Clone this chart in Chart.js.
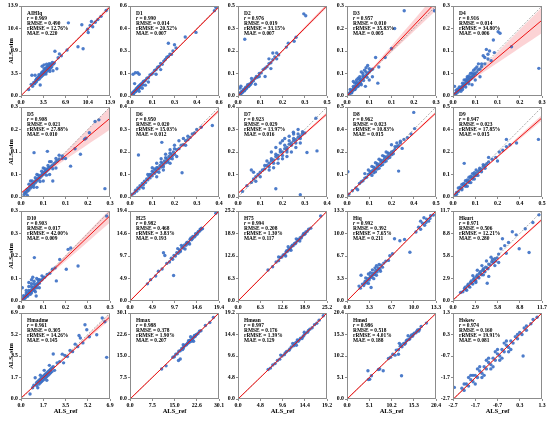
<!DOCTYPE html>
<html>
<head>
<meta charset="utf-8">
<script src="https://cdn.jsdelivr.net/npm/chart.js@4/dist/chart.umd.min.js"></script>
<style>
  body { margin: 0; background: #fff; width: 550px; height: 421px; position: relative; overflow: hidden; }
  canvas { position: absolute; }
</style>
</head>
<body>
<script>
// panel names and statistics
const names = ['AIHIq', 'D1', 'D2', 'D3', 'D4', 'D5', 'D6', 'D7', 'D8', 'D9',
  'D10', 'H25', 'H75', 'Hiq', 'Hkurt', 'Hmadme', 'Hmax', 'Hmean', 'Hmed', 'Hskew'];
const rValues = ['0.969', '0.990', '0.976', '0.957', '0.916', '0.908', '0.950', '0.923', '0.962', '0.947',
  '0.903', '0.982', '0.994', '0.992', '0.971', '0.961', '0.988', '0.997', '0.986', '0.974'];
const rmseValues = ['0.490', '0.014', '0.019', '0.010', '0.014', '0.021', '0.020', '0.029', '0.023', '0.023',
  '0.017', '0.468', '0.208', '0.392', '0.506', '0.305', '0.378', '0.176', '0.518', '0.160'];
const rrmseValues = ['12.76', '20.52', '33.15', '35.83', '34.80', '27.88', '15.03', '13.97', '10.83', '17.85',
  '42.00', '3.83', '1.30', '7.65', '12.21', '14.26', '1.90', '1.39', '4.01', '19.91'];
const maeValues = ['0.220', '0.007', '0.007', '0.005', '0.006', '0.010', '0.012', '0.016', '0.015', '0.015',
  '0.009', '0.193', '0.117', '0.211', '0.280', '0.145', '0.207', '0.129', '0.188', '0.081'];

// axis ranges (same on x and y) and the printed tick labels
const axisMin = [0, 0, 0, 0, 0, 0, 0, 0, 0, 0, 0, 0, 0, 0, 0, 0, 0, 0, 0, -2.7];
const axisMax = [13.9, 0.58, 0.46, 0.28, 0.28, 0.28, 0.40, 0.40, 0.50, 0.50,
  0.34, 19.4, 25.2, 13.3, 11.7, 6.9, 30.1, 19.2, 20.4, 1.3];
const tickLabels = [
  ['0.0', '3.5', '6.9', '10.4', '13.9'],
  ['0.0', '0.1', '0.3', '0.4', '0.6'],
  ['0.0', '0.1', '0.2', '0.3', '0.5'],
  ['0.0', '0.1', '0.1', '0.2', '0.3'],
  ['0.0', '0.1', '0.1', '0.2', '0.3'],
  ['0.0', '0.1', '0.1', '0.2', '0.3'],
  ['0.0', '0.1', '0.2', '0.3', '0.4'],
  ['0.0', '0.1', '0.2', '0.3', '0.4'],
  ['0.0', '0.1', '0.2', '0.4', '0.5'],
  ['0.0', '0.1', '0.2', '0.4', '0.5'],
  ['0.0', '0.1', '0.2', '0.3', '0.3'],
  ['0.0', '4.9', '9.7', '14.6', '19.4'],
  ['0.0', '6.3', '12.6', '18.9', '25.2'],
  ['0.0', '3.3', '6.7', '10.0', '13.3'],
  ['0.0', '2.9', '5.8', '8.8', '11.7'],
  ['0.0', '1.7', '3.5', '5.2', '6.9'],
  ['0.0', '7.5', '15.0', '22.6', '30.1'],
  ['0.0', '4.8', '9.6', '14.4', '19.2'],
  ['0.0', '5.1', '10.2', '15.3', '20.4'],
  ['-2.7', '-1.7', '-0.7', '0.3', '1.3']
];

// fitted line: y at axis min and at axis max
const fitEnds = [[0.05, 13.75], [0.001, 0.575], [0.001, 0.462], [0.0, 0.292], [0.003, 0.236],
  [0.012, 0.245], [0.002, 0.385], [0.016, 0.37], [0.008, 0.468], [0.008, 0.44],
  [0.001, 0.322], [0.0, 19.4], [0.0, 25.1], [0.0, 13.3], [0.13, 10.6],
  [0.08, 6.6], [0.0, 30.1], [0.0, 19.2], [0.0, 20.3], [-2.72, 1.3]];
// confidence band half widths at axis min, near data centre, at axis max
const bandHalf = [[0.05, 0.02, 0.35], [0.002, 0.001, 0.008], [0.003, 0.001, 0.01], [0.003, 0.001, 0.025], [0.003, 0.001, 0.04],
  [0.003, 0.001, 0.035], [0.003, 0.001, 0.008], [0.004, 0.002, 0.008], [0.003, 0.001, 0.008], [0.002, 0.001, 0.015],
  [0.002, 0.001, 0.025], [0.15, 0.03, 0.1], [0.2, 0.03, 0.1], [0.05, 0.02, 0.1], [0.05, 0.02, 0.2],
  [0.03, 0.01, 0.25], [0.2, 0.05, 0.2], [0.1, 0.02, 0.05], [0.15, 0.03, 0.1], [0.04, 0.01, 0.03]];
const bandMidX = [3.5, 0.1, 0.06, 0.04, 0.04, 0.06, 0.14, 0.18, 0.18, 0.1,
  0.04, 12, 15, 4, 3.5, 2, 19.5, 12, 13, -1];

// scatter points [ALS_ref, ALS_sim]
const ptsAIHIq = [[1.2,1.0],[1.6,1.8],[1.8,1.5],[2.0,2.1],[2.1,1.9],[2.3,2.4],[2.4,2.2],[2.5,2.7],[2.6,2.5],[2.7,2.9],[2.8,2.6],[2.9,3.1],[3.0,2.8],[3.1,3.3],[3.2,3.0],[3.3,3.5],[3.4,3.2],[3.5,3.7],[3.6,3.4],[3.7,3.9],[3.8,3.6],[3.9,4.1],[4.0,3.8],[4.1,4.3],[4.2,4.0],[4.3,4.5],[4.4,4.1],[4.5,4.6],[4.6,4.3],[4.7,4.8],[4.8,4.5],[5.0,4.9],[5.2,5.1],[3.3,4.6],[3.6,4.8],[4.0,4.9],[4.4,5.0],[2.2,3.2],[1.7,3.2],[3.0,1.7],[5.3,6.9],[6.0,6.5],[5.8,5.9],[6.3,6.2],[5.0,3.9],[5.6,4.2],[7.2,7.1],[7.4,11.3],[9.5,11.0],[8.9,7.6],[9.7,7.3],[10.4,10.3],[10.8,10.9],[11.2,10.7],[11.6,11.4],[12.0,11.8],[12.5,12.3],[11.0,11.5],[10.5,9.8],[13.3,13.2],
  [2.2,2.0],[2.6,2.8],[3.0,3.2],[3.4,3.8],[3.8,4.2],[4.2,4.6],[4.6,4.9],[3.2,3.6],[3.6,4.2],[4.0,4.4],[2.8,3.3],[4.9,5.2],[3.9,3.4],[4.5,3.8],[2.4,2.6]];
const ptsD1 = [[0.005,0.004],[0.01,0.012],[0.015,0.01],[0.02,0.022],[0.025,0.018],[0.03,0.033],[0.035,0.028],[0.04,0.045],[0.045,0.04],[0.05,0.055],[0.055,0.048],[0.06,0.065],[0.065,0.06],[0.07,0.075],[0.08,0.078],[0.09,0.095],[0.1,0.1],[0.11,0.115],[0.12,0.118],[0.13,0.135],[0.14,0.14],[0.15,0.148],[0.16,0.165],[0.17,0.17],[0.18,0.185],[0.19,0.19],[0.2,0.21],[0.21,0.205],[0.22,0.225],[0.23,0.235],[0.24,0.25],[0.25,0.255],[0.26,0.27],[0.27,0.268],[0.28,0.29],[0.3,0.31],[0.29,0.33],[0.25,0.34],[0.02,0.14],[0.035,0.15],[0.05,0.15],[0.06,0.14],[0.03,0.08],[0.06,0.03],[0.08,0.05],[0.1,0.07],[0.36,0.38],[0.43,0.41],[0.55,0.55],[0.56,0.57],[0.17,0.14],[0.2,0.17],[0.12,0.09],
  [0.015,0.02],[0.025,0.03],[0.035,0.038],[0.045,0.05],[0.055,0.062],[0.065,0.07],[0.075,0.08],[0.085,0.09],[0.02,0.012],[0.04,0.032],[0.06,0.05],[0.08,0.07]];
const ptsD2 = [[0.003,0.003],[0.008,0.01],[0.012,0.008],[0.018,0.02],[0.022,0.018],[0.028,0.03],[0.032,0.026],[0.038,0.04],[0.043,0.038],[0.05,0.052],[0.055,0.048],[0.06,0.062],[0.065,0.06],[0.072,0.075],[0.08,0.078],[0.088,0.09],[0.095,0.1],[0.1,0.096],[0.11,0.115],[0.12,0.118],[0.13,0.135],[0.14,0.142],[0.15,0.15],[0.16,0.165],[0.17,0.17],[0.18,0.185],[0.19,0.2],[0.2,0.19],[0.21,0.21],[0.16,0.19],[0.18,0.22],[0.2,0.22],[0.14,0.1],[0.17,0.14],[0.01,0.04],[0.015,0.05],[0.035,0.29],[0.09,0.06],[0.25,0.25],[0.26,0.27],[0.29,0.28],[0.3,0.3],[0.34,0.42],[0.35,0.41],[0.07,0.09],[0.11,0.1],
  [0.01,0.015],[0.02,0.025],[0.03,0.035],[0.04,0.045],[0.05,0.058],[0.015,0.012],[0.025,0.022],[0.035,0.03],[0.045,0.042],[0.06,0.055],[0.07,0.068]];
const ptsD3 = [[0.002,0.002],[0.005,0.006],[0.008,0.007],[0.01,0.012],[0.013,0.01],[0.015,0.018],[0.018,0.016],[0.02,0.024],[0.023,0.02],[0.025,0.03],[0.028,0.025],[0.03,0.035],[0.033,0.03],[0.035,0.04],[0.038,0.036],[0.04,0.045],[0.043,0.04],[0.045,0.05],[0.05,0.055],[0.052,0.048],[0.055,0.06],[0.06,0.065],[0.063,0.058],[0.065,0.07],[0.07,0.075],[0.075,0.08],[0.08,0.083],[0.03,0.05],[0.04,0.06],[0.05,0.07],[0.055,0.08],[0.06,0.088],[0.065,0.095],[0.045,0.075],[0.02,0.045],[0.058,0.03],[0.07,0.05],[0.08,0.06],[0.09,0.12],[0.1,0.09],[0.12,0.12],[0.14,0.148],[0.15,0.21],[0.18,0.265],[0.275,0.265],[0.097,0.04],
  [0.01,0.02],[0.02,0.03],[0.03,0.042],[0.04,0.052],[0.05,0.062],[0.015,0.01],[0.025,0.02],[0.035,0.03],[0.045,0.035],[0.06,0.075],[0.07,0.085],[0.025,0.04],[0.035,0.055]];
const ptsD4 = [[0.002,0.003],[0.005,0.004],[0.008,0.009],[0.01,0.008],[0.012,0.014],[0.015,0.012],[0.018,0.02],[0.02,0.017],[0.023,0.025],[0.025,0.022],[0.028,0.03],[0.03,0.027],[0.033,0.036],[0.035,0.032],[0.038,0.04],[0.04,0.037],[0.043,0.045],[0.045,0.042],[0.048,0.05],[0.05,0.047],[0.053,0.056],[0.055,0.052],[0.058,0.06],[0.06,0.057],[0.063,0.066],[0.065,0.062],[0.068,0.07],[0.07,0.068],[0.075,0.075],[0.08,0.082],[0.085,0.084],[0.09,0.092],[0.035,0.05],[0.045,0.06],[0.055,0.07],[0.065,0.08],[0.075,0.09],[0.08,0.1],[0.06,0.035],[0.07,0.05],[0.085,0.06],[0.1,0.1],[0.1,0.12],[0.11,0.13],[0.115,0.14],[0.12,0.11],[0.13,0.135],[0.127,0.174],[0.142,0.2],[0.148,0.195],[0.184,0.153],[0.27,0.086],[0.005,0.03],[0.095,0.125],[0.105,0.145],
  [0.01,0.018],[0.02,0.028],[0.03,0.04],[0.04,0.05],[0.05,0.062],[0.06,0.072],[0.07,0.085],[0.025,0.015],[0.04,0.028],[0.05,0.038],[0.015,0.022],[0.03,0.02],[0.045,0.055],[0.09,0.1],[0.11,0.115]];
const ptsD5 = [[0.01,0.008],[0.012,0.015],[0.015,0.012],[0.018,0.022],[0.02,0.018],[0.022,0.026],[0.025,0.022],[0.028,0.032],[0.03,0.028],[0.033,0.038],[0.035,0.033],[0.038,0.043],[0.04,0.038],[0.043,0.048],[0.045,0.044],[0.048,0.054],[0.05,0.05],[0.053,0.058],[0.055,0.055],[0.058,0.063],[0.06,0.06],[0.063,0.068],[0.065,0.065],[0.068,0.073],[0.07,0.07],[0.073,0.078],[0.075,0.075],[0.078,0.082],[0.08,0.08],[0.083,0.087],[0.085,0.085],[0.088,0.092],[0.09,0.09],[0.095,0.096],[0.1,0.1],[0.105,0.104],[0.11,0.11],[0.115,0.113],[0.12,0.118],[0.03,0.05],[0.05,0.07],[0.07,0.09],[0.09,0.11],[0.05,0.03],[0.07,0.05],[0.09,0.07],[0.11,0.09],[0.041,0.138],[0.083,0.142],[0.13,0.128],[0.14,0.12],[0.156,0.096],[0.187,0.133],[0.17,0.15],[0.2,0.18],[0.204,0.183],[0.215,0.2],[0.233,0.235],[0.245,0.24],[0.264,0.026],[0.1,0.05],[0.02,0.005],
  [0.025,0.04],[0.035,0.05],[0.045,0.06],[0.055,0.068],[0.065,0.08],[0.075,0.088],[0.085,0.098],[0.095,0.11],[0.04,0.03],[0.06,0.048],[0.08,0.068],[0.1,0.088],[0.11,0.12],[0.12,0.13],[0.13,0.12]];
const ptsD6 = [[0.01,0.012],[0.02,0.018],[0.025,0.03],[0.03,0.026],[0.035,0.04],[0.04,0.036],[0.045,0.05],[0.05,0.045],[0.055,0.06],[0.06,0.055],[0.065,0.07],[0.07,0.064],[0.075,0.08],[0.08,0.076],[0.085,0.09],[0.09,0.085],[0.095,0.1],[0.1,0.094],[0.105,0.11],[0.11,0.105],[0.115,0.12],[0.12,0.113],[0.125,0.13],[0.13,0.124],[0.135,0.14],[0.14,0.133],[0.145,0.15],[0.15,0.143],[0.155,0.16],[0.16,0.152],[0.165,0.17],[0.17,0.163],[0.175,0.18],[0.18,0.172],[0.185,0.19],[0.19,0.182],[0.195,0.2],[0.2,0.19],[0.21,0.21],[0.22,0.215],[0.23,0.23],[0.24,0.232],[0.25,0.25],[0.26,0.255],[0.27,0.265],[0.28,0.28],[0.29,0.285],[0.1,0.13],[0.12,0.15],[0.14,0.17],[0.16,0.19],[0.18,0.21],[0.2,0.23],[0.22,0.25],[0.12,0.09],[0.15,0.12],[0.18,0.15],[0.21,0.18],[0.038,0.187],[0.143,0.243],[0.234,0.108],[0.37,0.318],[0.3,0.3],[0.32,0.31],[0.06,0.04],[0.08,0.1],
  [0.1,0.115],[0.12,0.13],[0.14,0.155],[0.16,0.175],[0.18,0.195],[0.2,0.215],[0.13,0.11],[0.15,0.135],[0.17,0.155],[0.19,0.17],[0.24,0.26],[0.26,0.27],[0.25,0.23],[0.11,0.125],[0.09,0.1]];
const ptsD7 = [[0.02,0.025],[0.04,0.05],[0.06,0.065],[0.07,0.08],[0.08,0.09],[0.09,0.1],[0.1,0.11],[0.11,0.12],[0.12,0.125],[0.13,0.14],[0.14,0.15],[0.15,0.16],[0.16,0.165],[0.17,0.18],[0.18,0.185],[0.19,0.2],[0.2,0.2],[0.21,0.215],[0.22,0.22],[0.23,0.235],[0.24,0.24],[0.25,0.25],[0.26,0.255],[0.27,0.265],[0.28,0.27],[0.29,0.28],[0.3,0.285],[0.15,0.2],[0.17,0.22],[0.19,0.24],[0.21,0.26],[0.23,0.27],[0.25,0.28],[0.16,0.13],[0.18,0.15],[0.2,0.17],[0.22,0.18],[0.24,0.2],[0.26,0.22],[0.28,0.24],[0.12,0.14],[0.14,0.12],[0.1,0.09],[0.06,0.12],[0.07,0.11],[0.17,0.037],[0.28,0.01],[0.31,0.198],[0.355,0.205],[0.249,0.288],[0.27,0.3],[0.2,0.25],[0.22,0.21],[0.08,0.07],[0.35,0.35],
  [0.13,0.16],[0.15,0.17],[0.17,0.19],[0.19,0.21],[0.21,0.23],[0.23,0.25],[0.25,0.26],[0.27,0.28],[0.14,0.135],[0.16,0.15],[0.18,0.17],[0.2,0.185],[0.22,0.2],[0.24,0.23],[0.26,0.24],[0.28,0.26],[0.29,0.29]];
const ptsD8 = [[0.01,0.015],[0.03,0.035],[0.05,0.05],[0.07,0.075],[0.08,0.085],[0.09,0.09],[0.1,0.105],[0.11,0.11],[0.12,0.125],[0.13,0.13],[0.14,0.145],[0.15,0.15],[0.16,0.16],[0.17,0.175],[0.18,0.18],[0.19,0.195],[0.2,0.2],[0.21,0.21],[0.22,0.22],[0.23,0.23],[0.24,0.24],[0.25,0.25],[0.26,0.255],[0.27,0.265],[0.28,0.28],[0.29,0.285],[0.3,0.3],[0.32,0.32],[0.34,0.33],[0.36,0.35],[0.12,0.15],[0.14,0.17],[0.16,0.19],[0.18,0.21],[0.2,0.23],[0.22,0.25],[0.14,0.12],[0.16,0.14],[0.18,0.16],[0.2,0.18],[0.22,0.2],[0.24,0.22],[0.26,0.24],[0.005,0.14],[0.29,0.144],[0.375,0.47],[0.38,0.38],[0.25,0.29],[0.31,0.27],[0.06,0.04],[0.1,0.13],
  [0.13,0.14],[0.15,0.165],[0.17,0.185],[0.19,0.205],[0.21,0.225],[0.23,0.245],[0.15,0.135],[0.17,0.155],[0.19,0.175],[0.21,0.195],[0.23,0.215],[0.25,0.235],[0.27,0.28],[0.28,0.3],[0.3,0.31]];
const ptsD9 = [[0.01,0.01],[0.02,0.025],[0.03,0.03],[0.04,0.045],[0.05,0.05],[0.06,0.065],[0.07,0.07],[0.08,0.085],[0.09,0.09],[0.1,0.105],[0.11,0.11],[0.12,0.12],[0.13,0.13],[0.14,0.14],[0.15,0.15],[0.16,0.155],[0.17,0.17],[0.18,0.175],[0.19,0.185],[0.2,0.195],[0.05,0.07],[0.07,0.09],[0.09,0.11],[0.11,0.13],[0.13,0.15],[0.08,0.06],[0.1,0.08],[0.12,0.1],[0.14,0.12],[0.063,0.187],[0.22,0.21],[0.24,0.22],[0.26,0.25],[0.28,0.26],[0.3,0.28],[0.32,0.29],[0.357,0.3],[0.3,0.32],[0.25,0.2],[0.48,0.32],[0.2,0.22],[0.03,0.05],
  [0.04,0.055],[0.06,0.075],[0.08,0.095],[0.1,0.115],[0.12,0.135],[0.05,0.04],[0.07,0.06],[0.09,0.08],[0.11,0.1],[0.13,0.12],[0.15,0.16],[0.17,0.18],[0.16,0.14],[0.18,0.16],[0.02,0.015]];
const ptsD10 = [[0.003,0.003],[0.006,0.008],[0.01,0.009],[0.013,0.015],[0.016,0.014],[0.02,0.022],[0.023,0.02],[0.026,0.03],[0.03,0.027],[0.033,0.036],[0.036,0.033],[0.04,0.043],[0.043,0.04],[0.046,0.05],[0.05,0.046],[0.053,0.057],[0.056,0.053],[0.06,0.064],[0.063,0.06],[0.066,0.07],[0.07,0.067],[0.075,0.078],[0.08,0.08],[0.085,0.088],[0.09,0.09],[0.02,0.04],[0.03,0.055],[0.04,0.065],[0.05,0.075],[0.06,0.085],[0.045,0.09],[0.035,0.025],[0.055,0.035],[0.07,0.05],[0.1,0.1],[0.11,0.105],[0.12,0.12],[0.13,0.125],[0.135,0.076],[0.148,0.157],[0.173,0.12],[0.18,0.195],[0.19,0.2],[0.218,0.132],[0.051,0.164],[0.058,0.019],[0.327,0.321],[0.005,0.05],
  [0.01,0.02],[0.02,0.03],[0.03,0.04],[0.04,0.055],[0.05,0.065],[0.015,0.01],[0.025,0.018],[0.04,0.03],[0.05,0.04],[0.06,0.05],[0.07,0.08],[0.08,0.095],[0.065,0.08],[0.03,0.07],[0.04,0.08]];
const ptsH25 = [[3.8,3.7],[4.5,4.6],[5.6,5.4],[6.2,6.4],[7.0,6.9],[7.3,10.4],[7.6,9.8],[8.0,8.1],[8.6,8.4],[9.0,9.2],[9.3,9.0],[9.5,5.5],[9.6,9.8],[9.9,9.7],[10.2,10.4],[10.5,10.3],[10.8,11.0],[11.0,10.8],[11.3,11.5],[11.6,11.4],[11.9,12.1],[12.2,12.0],[12.5,12.7],[12.8,12.6],[13.1,13.3],[13.4,13.2],[13.7,13.9],[14.0,13.8],[14.3,14.5],[14.6,14.4],[14.9,15.0],[15.2,15.1],[15.5,15.4],[10.4,11.3],[11.2,12.0],[12.0,11.2],[13.0,12.3],[18.7,18.9],[15.8,15.6],
  [12.3,12.5],[12.7,12.4],[13.3,13.6],[13.6,13.4],[14.2,14.0],[14.8,14.7],[15.3,15.5],[11.5,11.7],[10.9,10.6],[15.6,15.7]];
const ptsH75 = [[8.5,8.7],[9.8,9.6],[10.8,10.9],[11.5,11.3],[12.0,12.2],[12.4,12.3],[12.8,12.9],[13.2,13.0],[13.6,13.7],[14.0,13.9],[14.4,14.5],[14.8,14.7],[15.2,15.3],[15.6,15.5],[16.0,16.1],[16.4,16.3],[16.8,16.9],[17.2,17.1],[17.6,17.7],[18.0,17.9],[18.4,18.5],[18.8,18.7],[19.2,19.3],[19.6,19.5],[20.0,20.1],[14.2,15.2],[15.0,14.2],[16.5,17.4],[17.5,16.8],[13.5,12.6],[23.4,23.8],[20.6,20.4],[11.5,12.3],
  [14.6,14.4],[15.4,15.6],[16.2,16.0],[17.0,17.2],[17.8,17.6],[18.6,18.9],[13.8,14.1],[19.0,18.8]];
const ptsHiq = [[1.8,2.2],[2.0,1.9],[2.3,2.5],[2.5,2.3],[2.7,2.9],[2.9,2.7],[3.1,3.3],[3.3,3.1],[3.5,3.7],[3.7,3.5],[3.9,4.1],[4.1,3.9],[4.3,4.5],[4.5,4.3],[4.7,4.9],[4.9,4.7],[5.1,5.3],[5.3,5.0],[5.5,5.6],[3.2,4.0],[3.8,4.6],[4.4,5.2],[3.6,2.0],[2.1,3.8],[4.0,3.3],[5.0,4.4],[5.8,5.9],[6.2,6.0],[6.4,6.7],[6.8,7.0],[7.1,9.2],[7.9,8.9],[8.6,9.1],[9.4,7.2],[10.3,10.2],[10.7,10.9],[11.0,10.6],[11.3,11.5],[11.6,11.2],[11.9,12.1],[12.2,11.8],[12.5,12.6],[11.5,12.3],[12.9,12.7],[11.0,11.8],
  [2.6,2.6],[3.0,3.0],[3.4,3.4],[3.8,3.8],[4.2,4.2],[4.6,4.6],[3.5,4.2],[4.2,4.9],[4.8,5.4],[2.8,3.4],[3.2,2.6],[4.4,3.8],[11.8,11.6],[12.4,12.2]];
const ptsHkurt = [[1.0,1.1],[1.3,1.2],[1.5,1.6],[1.7,1.5],[1.9,2.0],[2.1,1.9],[2.3,2.4],[2.5,2.3],[2.7,2.8],[2.9,2.7],[3.1,3.2],[3.3,3.1],[3.5,3.6],[3.7,3.5],[3.9,4.0],[4.1,3.9],[4.3,4.4],[4.5,4.3],[4.7,4.8],[4.9,4.7],[5.1,5.1],[5.3,5.0],[5.5,5.5],[5.8,5.6],[6.0,6.1],[2.6,3.3],[3.2,4.0],[3.8,4.6],[4.4,5.2],[5.0,5.7],[3.0,2.4],[4.0,3.4],[4.7,3.2],[4.5,2.3],[5.5,4.6],[6.3,6.8],[6.5,8.1],[6.8,7.2],[7.3,7.6],[7.8,9.0],[8.3,8.6],[8.7,6.8],[10.0,6.3],[9.5,9.4],[10.5,10.2],[11.3,11.2],[6.0,5.0],[7.0,6.2],
  [1.6,1.8],[2.0,2.2],[2.4,2.6],[2.8,3.0],[3.2,3.4],[3.6,3.8],[4.0,4.2],[1.8,1.4],[2.2,1.8],[2.6,2.2],[3.0,2.6],[3.4,3.0],[3.8,3.4],[4.2,3.8],[4.6,4.2],[5.2,5.4],[5.6,5.2]];
const ptsHmadme = [[0.7,0.4],[0.9,0.9],[1.0,1.1],[1.1,1.7],[1.2,1.1],[1.3,0.9],[1.3,1.4],[1.4,1.2],[1.5,1.6],[1.6,1.4],[1.7,1.8],[1.8,1.6],[1.9,2.0],[2.0,1.8],[2.1,2.2],[2.2,2.0],[2.3,2.4],[2.4,2.2],[2.5,2.6],[2.6,2.3],[1.5,1.9],[1.8,2.3],[2.2,2.7],[2.0,1.5],[2.5,3.61],[2.8,2.9],[3.0,3.0],[3.3,2.9],[3.4,3.5],[3.6,3.4],[3.8,3.9],[4.0,3.8],[4.2,4.4],[4.4,4.2],[4.6,4.9],[4.8,4.5],[4.96,5.96],[5.1,5.56],[5.3,5.0],[5.87,5.16],[6.64,3.34],[6.3,6.5],[6.5,6.2],[4.5,5.1],[3.2,3.6],
  [1.4,1.5],[1.6,1.7],[1.8,1.9],[2.0,2.1],[2.2,2.3],[1.5,1.3],[1.7,1.5],[1.9,1.7],[2.1,1.9],[2.3,2.1],[1.2,1.3],[2.4,2.5]];
const ptsHmax = [[10.7,10.5],[12.2,11.6],[14.5,14.6],[15.0,14.8],[15.5,15.7],[16.0,15.8],[16.5,16.7],[17.0,16.9],[17.5,17.7],[18.0,17.8],[18.5,18.7],[19.0,18.9],[19.5,19.6],[20.0,19.8],[20.5,20.7],[21.0,20.8],[21.5,21.6],[22.0,21.9],[22.5,22.6],[23.0,22.9],[23.5,23.7],[24.0,23.9],[16.4,13.5],[17.0,14.0],[20.5,21.8],[21.5,20.2],[18.0,19.0],[25.5,25.7],[27.0,26.8],[28.2,28.5],
  [18.2,18.3],[19.2,19.2],[20.2,20.3],[21.2,21.1],[22.2,22.3],[19.8,20.4],[20.8,20.2],[17.8,17.3],[21.8,22.2]];
const ptsHmean = [[6.5,6.6],[7.0,6.9],[7.5,7.6],[8.0,7.9],[8.5,8.6],[9.0,8.9],[9.5,9.6],[10.0,9.9],[10.5,10.6],[11.0,10.9],[11.5,11.6],[12.0,11.9],[12.5,12.6],[13.0,12.9],[13.5,13.6],[14.0,13.9],[14.5,14.6],[15.0,14.9],[15.5,15.6],[16.0,15.9],[16.5,16.6],[17.0,16.9],[17.5,17.6],[11.8,12.4],[12.6,12.0],[9.2,9.8],[14.3,14.9],[18.4,18.6],
  [10.2,10.3],[11.2,11.2],[12.2,12.3],[13.2,13.2],[14.2,14.2],[15.2,15.3],[12.8,13.2],[13.8,13.5]];
const ptsHmed = [[4.8,6.7],[4.9,4.6],[5.2,4.7],[5.6,5.5],[7.2,7.0],[7.5,7.1],[8.3,6.7],[9.5,9.6],[10.0,9.9],[10.5,10.6],[11.0,10.4],[11.3,11.6],[11.8,11.7],[12.2,12.5],[12.6,12.4],[13.0,13.2],[13.4,13.3],[13.8,14.0],[14.2,14.1],[14.6,14.8],[15.0,14.9],[15.4,15.6],[15.8,15.7],[16.2,16.4],[16.6,16.5],[17.0,17.2],[12.5,5.5],[11.8,10.6],[12.0,13.2],[14.0,15.0],[18.2,18.0],
  [13.2,13.0],[13.6,13.8],[14.4,14.3],[15.2,15.3],[16.0,16.1],[12.4,12.8],[14.8,15.2],[16.4,16.1]];
const ptsHskew = [[-2.64,-2.16],[-2.3,-2.2],[-2.2,-2.3],[-2.1,-2.0],[-2.0,-2.1],[-1.9,-1.8],[-1.8,-1.9],[-1.7,-1.6],[-1.6,-1.7],[-1.5,-1.4],[-1.4,-1.5],[-1.3,-1.2],[-1.2,-1.3],[-1.1,-1.0],[-1.0,-1.1],[-0.9,-0.8],[-0.8,-0.9],[-0.7,-0.6],[-0.6,-0.7],[-0.5,-0.4],[-0.4,-0.5],[-0.3,-0.2],[-0.2,-0.3],[-0.1,0.0],[0.0,-0.1],[0.1,0.2],[0.2,0.1],[0.3,0.4],[0.4,0.3],[0.5,0.6],[0.6,0.5],[0.8,0.8],[-1.6,-1.3],[-1.2,-0.9],[-0.8,-0.5],[-0.4,-0.1],[-1.3,-1.6],[-0.9,-1.2],[-0.5,-0.8],[-0.1,-0.4],[0.45,-0.7],[1.08,1.1],[0.9,1.0],[-2.0,-1.7],
  [-1.9,-1.6],[-1.5,-1.2],[-1.1,-0.8],[-0.7,-0.4],[-0.3,0.0],[-1.7,-2.0],[-1.4,-1.7],[-1.0,-1.3],[-0.6,-0.9],[-0.2,-0.5],[0.2,0.3],[0.6,0.7],[-2.2,-2.0],[-1.8,-1.6]];

const allPoints = [ptsAIHIq, ptsD1, ptsD2, ptsD3, ptsD4, ptsD5, ptsD6, ptsD7, ptsD8, ptsD9,
  ptsD10, ptsH25, ptsH75, ptsHiq, ptsHkurt, ptsHmadme, ptsHmax, ptsHmean, ptsHmed, ptsHskew];

// page layout of the plot areas
const colLeft = [21, 130, 238, 347, 453];
const rowTop = [6, 107, 211, 313];
const plotH = [90, 90, 90, 86];
const plotW = 89;

const SERIF = '"Liberation Serif", "Times New Roman", serif';
Chart.defaults.font.family = SERIF;
Chart.defaults.font.weight = 'bold';
Chart.defaults.color = '#000';

// frame and stats text inside each panel
const panelText = {
  id: 'panelText',
  afterDraw(chart) {
    const i = chart.options.plugins.panelText.idx;
    const { ctx, chartArea: a } = chart;
    ctx.save();
    ctx.strokeStyle = '#8c8c8c';
    ctx.lineWidth = 1;
    ctx.strokeRect(Math.round(a.left) + 0.5, Math.round(a.top) + 0.5,
      Math.round(a.right - a.left) - 1, Math.round(a.bottom - a.top) - 1);
    const fb = 'bold 5.4px ' + SERIF;
    const x = a.left + 6, y0 = a.top + 8.5, dy = 5.2;
    ctx.fillStyle = '#000';
    ctx.font = fb;
    ctx.fillText(names[i], x, y0);
    ctx.font = 'italic bold 5.4px ' + SERIF;
    ctx.fillText('r', x, y0 + dy);
    const w = ctx.measureText('r').width;
    ctx.font = fb;
    ctx.fillText(' = ' + rValues[i], x + w, y0 + dy);
    ctx.fillText('RMSE = ' + rmseValues[i], x, y0 + 2 * dy);
    ctx.fillText('rRMSE = ' + rrmseValues[i] + '%', x, y0 + 3 * dy);
    ctx.fillText('MAE = ' + maeValues[i], x, y0 + 4 * dy);
    ctx.restore();
  }
};

function makePanel(i) {
  const c = i % 5, r = Math.floor(i / 5);
  const yw = 21, xh = r === 3 ? 16 : 11, pt = 5, pr = 8;
  const H = plotH[r];
  const lo = axisMin[i], hi = axisMax[i];
  const labels = tickLabels[i];
  const [f0, f1] = fitEnds[i];
  const fitAt = x => f0 + (f1 - f0) * (x - lo) / (hi - lo);
  const bx = [lo, bandMidX[i], hi];
  const bh = bandHalf[i];

  const cv = document.createElement('canvas');
  cv.width = yw + plotW + pr;
  cv.height = pt + H + xh;
  cv.style.left = (colLeft[c] - yw) + 'px';
  cv.style.top = (rowTop[r] - pt) + 'px';
  document.body.appendChild(cv);

  const fiveTicks = s => {
    s.ticks = [0, 1, 2, 3, 4].map(k => ({ value: lo + k * (hi - lo) / 4 }));
  };
  const axis = (isX) => ({
    type: 'linear',
    min: lo,
    max: hi,
    afterBuildTicks: fiveTicks,
    afterFit: s => { if (isX) s.height = xh; else s.width = yw; },
    grid: { drawOnChartArea: false, tickLength: 2, color: '#8c8c8c' },
    border: { display: false },
    ticks: {
      autoSkip: false, maxRotation: 0, minRotation: 0, padding: 1,
      font: { size: 5.8, weight: 'bold' },
      callback: (v, k) => labels[k]
    },
    title: isX
      ? { display: r === 3, text: 'ALS_ref', font: { size: 6.5, weight: 'bold' }, padding: 0 }
      : { display: c === 0, text: 'ALS_sim', font: { size: 6.5, weight: 'bold' }, padding: { top: 7, bottom: 0 } }
  });

  new Chart(cv.getContext('2d'), {
    type: 'scatter',
    data: {
      datasets: [
        {
          data: allPoints[i].map(p => ({ x: p[0], y: p[1] })),
          pointRadius: 1.7, pointBackgroundColor: 'rgba(58,110,196,0.9)', pointBorderWidth: 0,
          order: 5
        },
        {
          data: bx.map((x, k) => ({ x, y: fitAt(x) - bh[k] })),
          showLine: true, pointRadius: 0, borderWidth: 0, tension: 0.35, fill: false, order: 4
        },
        {
          data: bx.map((x, k) => ({ x, y: fitAt(x) + bh[k] })),
          showLine: true, pointRadius: 0, borderWidth: 0, tension: 0.35,
          fill: 1, backgroundColor: 'rgba(245,130,135,0.35)', order: 3
        },
        {
          data: [{ x: lo, y: lo }, { x: hi, y: hi }],
          showLine: true, pointRadius: 0, borderColor: '#777', borderWidth: 0.6,
          borderDash: [2, 1.5], order: 1
        },
        {
          data: [{ x: lo, y: f0 }, { x: hi, y: f1 }],
          showLine: true, pointRadius: 0, borderColor: '#ee1111', borderWidth: 1, order: 0
        }
      ]
    },
    options: {
      responsive: false,
      animation: false,
      layout: { padding: { left: 0, top: pt, right: pr, bottom: 0 } },
      scales: { x: axis(true), y: axis(false) },
      plugins: {
        legend: { display: false },
        tooltip: { enabled: false },
        filler: { drawTime: 'beforeDatasetsDraw' },
        panelText: { idx: i }
      }
    },
    plugins: [panelText]
  });
}

document.addEventListener('DOMContentLoaded', () => {
  for (let i = 0; i < 20; i++) makePanel(i);
});
</script>
</body>
</html>
